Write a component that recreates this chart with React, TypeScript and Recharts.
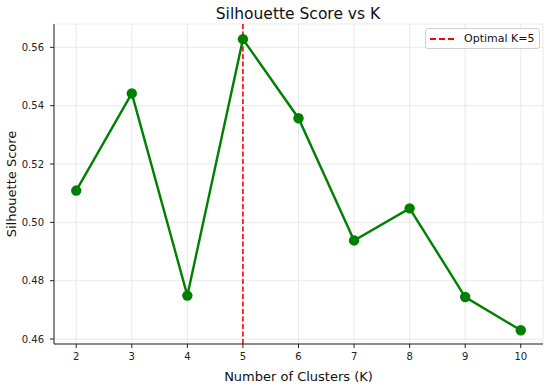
import {
	CartesianGrid,
	Customized,
	Line,
	LineChart,
	ReferenceLine,
	XAxis,
	YAxis,
} from 'recharts'

const clusters = [2, 3, 4, 5, 6, 7, 8, 9, 10]
const scores = [0.5109, 0.5442, 0.4749, 0.5628, 0.5357, 0.4938, 0.5048, 0.4744, 0.463]
const xTicks = [2, 3, 4, 5, 6, 7, 8, 9, 10]
const yTicks = [0.46, 0.48, 0.5, 0.52, 0.54, 0.56]
const optimalK = 5

const data = clusters.map((k, i) => ({ k, score: scores[i] }))

const FONT = "'DejaVu Sans', sans-serif"
const INK = '#222'

function Title() {
	return (
		<text
			x={298}
			y={19}
			textAnchor='middle'
			fontSize={15.5}
			fontFamily={FONT}
			fill='#111'
		>
			Silhouette Score vs K
		</text>
	)
}

function LegendBox() {
	return (
		<div
			style={{
				position: 'absolute',
				left: 425,
				top: 28,
				width: 115,
				height: 21,
				boxSizing: 'border-box',
				border: '1px solid #d0d0d0',
				borderRadius: 3,
				background: 'rgba(255,255,255,0.85)',
				display: 'flex',
				alignItems: 'center',
				fontFamily: FONT,
				fontSize: 11,
				color: '#111',
			}}
		>
			<svg width={30} height={10} style={{ marginLeft: 3 }}>
				<line
					x1={1}
					y1={5}
					x2={26}
					y2={5}
					stroke='#ff0000'
					strokeWidth={1.8}
					strokeDasharray='6 3'
				/>
			</svg>
			<span style={{ marginLeft: 5 }}>Optimal K=5</span>
		</div>
	)
}

export default function App() {
	return (
		<div style={{ position: 'absolute', left: 0, top: 0, width: 550, height: 386 }}>
			<LineChart
				width={550}
				height={386}
				data={data}
				margin={{ top: 24, right: 7, bottom: 0, left: 0 }}
				style={{ fontFamily: FONT }}
			>
				<CartesianGrid stroke='#e3e3e3' strokeWidth={0.8} />
				<XAxis
					dataKey='k'
					type='number'
					domain={[1.6, 10.4]}
					ticks={xTicks}
					height={42}
					tickSize={4}
					tickMargin={5}
					stroke={INK}
					tick={{ fill: INK, fontSize: 10 }}
					label={{
						value: 'Number of Clusters (K)',
						position: 'insideBottom',
						offset: 5,
						fontSize: 13,
						fill: '#111',
					}}
				/>
				<XAxis
					xAxisId='top'
					dataKey='k'
					type='number'
					orientation='top'
					domain={[1.6, 10.4]}
					height={0}
					tick={false}
					tickLine={false}
					stroke={INK}
				/>
				<YAxis
					type='number'
					domain={[0.4583, 0.568]}
					ticks={yTicks}
					width={54}
					tickSize={4}
					tickMargin={6}
					stroke={INK}
					tick={{ fill: INK, fontSize: 10 }}
					tickFormatter={(v: number) => v.toFixed(2)}
					label={{
						value: 'Silhouette Score',
						angle: -90,
						position: 'insideLeft',
						offset: 11,
						fontSize: 13,
						fill: '#111',
						style: { textAnchor: 'middle' },
					}}
				/>
				<YAxis
					yAxisId='right'
					orientation='right'
					type='number'
					domain={[0.4583, 0.568]}
					width={0}
					tick={false}
					tickLine={false}
					stroke={INK}
				/>
				<ReferenceLine
					x={optimalK}
					stroke='#ff0000'
					strokeWidth={1.6}
					strokeDasharray='5 2.5'
				/>
				<Line
					dataKey='score'
					stroke='#008000'
					strokeWidth={2.4}
					dot={{ r: 5.2, fill: '#008000', stroke: '#008000', strokeWidth: 0 }}
					activeDot={false}
					isAnimationActive={false}
				/>
				<Customized component={Title} />
			</LineChart>
			<LegendBox />
		</div>
	)
}
